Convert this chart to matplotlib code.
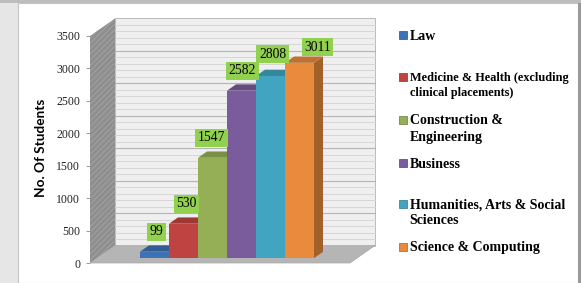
"""
No. of students by faculty, Excel-style 3D clustered column chart.
Output: out.png (581x283)
"""
import matplotlib
matplotlib.use("Agg")
import matplotlib.pyplot as plt
from matplotlib.patches import Polygon, Rectangle
from matplotlib.transforms import ScaledTranslation, IdentityTransform
import numpy as np

# ── Data ──────────────────────────────────────────────────────────────────────
SERIES = ['Law',
          'Medicine & Health (excluding\nclinical placements)',
          'Construction &\nEngineering',
          'Business',
          'Humanities, Arts & Social\nSciences',
          'Science & Computing']
STUDENTS = [99, 530, 1547, 2582, 2808, 3011]
Y_TICKS = [0, 500, 1000, 1500, 2000, 2500, 3000, 3500]
Y_LABEL = 'No. Of Students'

COLORS = ['#3F72B4', '#BF4441', '#94AF55', '#7A5C9D', '#41A5C1', '#E98A3C']

W, H, DPI = 581, 283, 100
SERIF = ['Liberation Serif', 'DejaVu Serif']

# depth of the 3D box in pixels (front plane -> back wall)
DX, DY = 25, 17.5
D0, D1 = 0.28, 0.64          # bar front / back depth fractions


def shade(c, f):
    r, g, b = matplotlib.colors.to_rgb(c)
    return (r * f, g * f, b * f)


fig = plt.figure(figsize=(W / DPI, H / DPI), dpi=DPI)
fig.patch.set_facecolor('#E6E6E6')

# ── Slide-ish frame ───────────────────────────────────────────────────────────
fig.add_artist(Rectangle((18, 0), 560, H - 3, transform=IdentityTransform(),
                         facecolor='white', edgecolor='#C4C4C4', lw=0.8, zorder=-5))
fig.add_artist(Rectangle((0, H - 3), W, 3, transform=IdentityTransform(),
                         facecolor='#BDBDBD', edgecolor='none', zorder=-5))
fig.add_artist(Rectangle((578, 0), 3, H - 3, transform=IdentityTransform(),
                         facecolor='#9A9A9A', edgecolor='none', zorder=-5))

# front plane of the 3D box: x 90..350 px, y(0)=263 px, y(3500)=36 px
ax = fig.add_axes([90 / W, (H - 263) / H, 260 / W, 227 / H])
ax.patch.set_visible(False)
for s in ax.spines.values():
    s.set_visible(False)

n = len(STUDENTS)
xpos = np.arange(n) - (n - 1) / 2
XL = 3 * 260 / 174
ax.set_xlim(-XL, XL)
ax.set_ylim(Y_TICKS[0], Y_TICKS[-1])
ax.set_xticks([])
ax.set_yticks(Y_TICKS)
ax.set_yticklabels([str(t) for t in Y_TICKS], fontsize=8.5, family=SERIF, color='#222222')
ax.tick_params(axis='y', length=3, width=0.6, color='#888888', pad=4)


def off(d, ex=0, ey=0):
    return ax.transData + ScaledTranslation((DX * d + ex) / DPI, (DY * d + ey) / DPI,
                                            fig.dpi_scale_trans)


def P(x, y, d):
    px, py = ax.transData.transform((x, y))
    return (px + DX * d, py + DY * d)


def poly(pts, **kw):
    ax.add_patch(Polygon(pts, closed=True, transform=IdentityTransform(),
                         clip_on=False, **kw))


ymin, ymax = Y_TICKS[0], Y_TICKS[-1]

# back wall
wall_tr = off(1.0)
ax.add_patch(Rectangle((-XL, ymin), 2 * XL, ymax - ymin, transform=wall_tr,
                       facecolor='#EFEFEF', edgecolor='#B0B0B0', lw=0.6,
                       clip_on=False, zorder=1))
for v in np.arange(ymin, ymax, 100)[1:]:
    major = v % 500 == 0
    ax.plot([-XL, XL], [v, v], transform=wall_tr, clip_on=False, zorder=1.5,
            color='#B4B4B4' if major else '#D6D6D6', lw=0.8 if major else 0.7)

# side wall (hatched grey)
plt.rcParams['hatch.linewidth'] = 0.6
poly([P(-XL, ymin, 0), P(-XL, ymin, 1), P(-XL, ymax, 1), P(-XL, ymax, 0)],
     facecolor='#8E8E8E', edgecolor='#A6A6A6', hatch='//////', lw=0, zorder=1)

# floor
poly([P(-XL, ymin, 0), P(XL, ymin, 0), P(XL, ymin, 1), P(-XL, ymin, 1)],
     facecolor='#B5B5B5', edgecolor='#A8A8A8', lw=0.5, zorder=2)

# ── Bars ──────────────────────────────────────────────────────────────────────
LABEL_NUDGE = [(0, 0), (1, 0), (-3, 0), (-1, 0), (0, 2), (16, -4)]
for i, (x, v, c) in enumerate(zip(xpos, STUDENTS, COLORS)):
    x0, x1 = x - 0.5, x + 0.5
    z = 3 + i
    poly([P(x1, 0, D0), P(x1, 0, D1), P(x1, v, D1), P(x1, v, D0)],
         facecolor=shade(c, 0.7), edgecolor='none', zorder=z)
    poly([P(x0, v, D0), P(x1, v, D0), P(x1, v, D1), P(x0, v, D1)],
         facecolor=shade(c, 0.82), edgecolor='none', zorder=z)
    ax.bar([x], [v], width=1.0, color=c, transform=off(D0), clip_on=False,
           zorder=z + 0.5)
    nx, ny = LABEL_NUDGE[i]
    ax.text(x, v, str(v), transform=off(D1, -7 + nx, 7 + ny), ha='center',
            va='bottom', fontsize=9.8, family=SERIF, color='black', zorder=20,
            bbox=dict(facecolor='#92D050', edgecolor='none', pad=1.8))

# ── Axis title ────────────────────────────────────────────────────────────────
fig.text(41 / W, 1 - 148 / H, Y_LABEL, rotation=90, ha='center', va='center',
         fontsize=9.8, fontweight='bold', family=['Lato', 'DejaVu Sans'])

# ── Legend ────────────────────────────────────────────────────────────────────
LEG_Y = [35, 77, 120, 163, 204, 247]
LEG_FS = [10, 8.8, 10, 10, 10, 10]
for lab, c, y, fs in zip(SERIES, COLORS, LEG_Y, LEG_FS):
    fig.add_artist(Rectangle((399, H - y - 4), 8, 8, transform=IdentityTransform(),
                             facecolor=c, edgecolor=shade(c, 0.7), lw=0.5))
    fig.text(409.5 / W, 1 - (y - fs * 0.55) / H, lab, ha='left', va='top',
             fontsize=fs, fontweight='bold', family=SERIF, linespacing=1.3)

fig.savefig('out.png', dpi=DPI)
